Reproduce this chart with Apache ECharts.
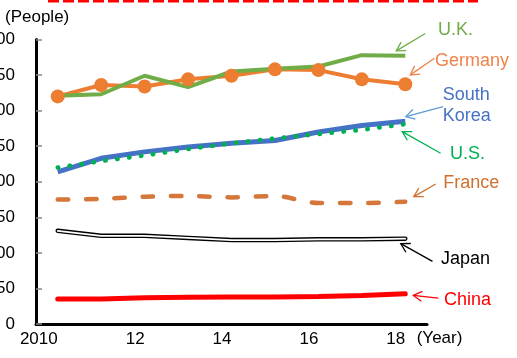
<!DOCTYPE html>
<html>
<head>
<meta charset="utf-8">
<script src="https://cdn.jsdelivr.net/npm/echarts@6/dist/echarts.min.js"></script>
<style>
  html, body { margin: 0; padding: 0; background: #fff; }
  #chart { width: 517px; height: 358px; }
</style>
</head>
<body>
<div id="chart"></div>
<script>
// Years on the horizontal axis
const years = ['2010', '2011', '2012', '2013', '2014', '2015', '2016', '2017', '2018'];

// Number of people per country and year
const uk        = [321, 323, 349, 333, 355, 359, 362, 378, 377];
const germany   = [320, 336, 334, 344, 349, 358, 357, 344, 337];
const southKorea= [214, 233, 242, 249, 254, 258, 270, 279, 285];
const us        = [220, 229, 237, 246, 254, 261, 267, 273, 281];
const france    = [175, 176, 179, 180, 178, 180, 170, 170, 172];
const japan     = [131, 124, 124, 121, 118, 118, 119, 119, 120];
const china     = [35, 35, 37, 37.5, 38, 38, 38.5, 40, 42.5];

const FONT = '"Liberation Sans", Arial, sans-serif';

const chart = echarts.init(document.getElementById('chart'), null, { renderer: 'canvas' });

chart.setOption({
  animation: false,
  backgroundColor: '#fff',
  grid: { left: 36, right: 90, top: 39.5, bottom: 34, containLabel: false, outerBoundsMode: 'none' },
  xAxis: {
    type: 'category',
    data: years,
    boundaryGap: true,
    axisLine: { lineStyle: { color: '#000', width: 3 } },
    axisTick: { show: false },
    axisLabel: {
      interval: 1,
      align: 'right',
      margin: 7,
      color: '#000',
      fontFamily: FONT,
      fontSize: 17,
      hideOverlap: false,
      formatter: (v, i) => (i === 0 ? v : v.slice(2))
    },
    splitLine: { show: false }
  },
  yAxis: {
    type: 'value',
    min: 0,
    max: 400,
    interval: 50,
    axisLine: { show: true, lineStyle: { color: '#000', width: 3 } },
    axisTick: { show: true, inside: true, length: 6, lineStyle: { color: '#888', width: 1.5 } },
    axisLabel: { margin: 21, color: '#000', fontFamily: FONT, fontSize: 17 },
    splitLine: { show: false }
  },
  series: [
    {
      name: 'China', type: 'line', data: china, symbol: 'none',
      lineStyle: { color: '#FF0000', width: 5, cap: 'round' }
    },
    {
      name: 'Japan', type: 'line', data: japan, symbol: 'none',
      lineStyle: { color: '#000', width: 4.5, cap: 'round', join: 'round' }
    },
    {
      name: 'Japan inner', type: 'line', data: japan, symbol: 'none',
      lineStyle: { color: '#fff', width: 1.8, cap: 'round', join: 'round' }
    },
    {
      name: 'France', type: 'line', data: france, symbol: 'none', smooth: 0.3,
      lineStyle: { color: '#D5763A', width: 4.5, type: [10.5, 17.8], cap: 'round' }
    },
    {
      name: 'South Korea', type: 'line', data: southKorea, symbol: 'none',
      lineStyle: { color: '#4472C4', width: 5, cap: 'butt' }
    },
    {
      name: 'U.S.', type: 'line', data: us, symbol: 'none',
      lineStyle: { color: '#00B050', width: 4.5, type: [0.5, 11.5], cap: 'round' }
    },
    {
      name: 'Germany', type: 'line', data: germany, symbol: 'circle', symbolSize: 14,
      itemStyle: { color: '#ED7D31' },
      lineStyle: { color: '#ED7D31', width: 4 }
    },
    {
      name: 'U.K.', type: 'line', data: uk, symbol: 'none',
      lineStyle: { color: '#70AD47', width: 4 }
    }
  ]
});

// Callout labels: arrow tip offset from the last point, arrow direction, text placement
const callouts = [
  { data: uk,         lines: ['U.K.'],          color: '#70AD47', arrow: '#70AD47', tip: [-9, -5],  vec: [29, -17.4],  tx: 438,   ty: [30.3] },
  { data: germany,    lines: ['Germany'],       color: '#F0834A', arrow: '#F0834A', tip: [5, -9.4], vec: [24.3, -16.7], tx: 435,   ty: [61.5] },
  { data: southKorea, lines: ['South', 'Korea'],color: '#4472C4', arrow: '#5B9BD5', tip: [0.5, -4.7], vec: [37.3, -10], tx: 442.7, ty: [95, 116.5] },
  { data: us,         lines: ['U.S.'],          color: '#00B050', arrow: '#00B050', tip: [-3, 7.5], vec: [38.3, 21.6],  tx: 450,   ty: [154] },
  { data: france,     lines: ['France'],        color: '#D0702F', arrow: '#D0702F', tip: [8.5, -5], vec: [22, -12.7],   tx: 443.3, ty: [183.5] },
  { data: japan,      lines: ['Japan'],         color: '#000000', arrow: '#000000', tip: [-4.5, 5], vec: [31.7, 17.7],  tx: 441,   ty: [259.5] },
  { data: china,      lines: ['China'],         color: '#FF0000', arrow: '#FF0000', tip: [8, 1.7],  vec: [25, 2.6],     tx: 444,   ty: [299.7] }
];

function arrowShapes(tip, tail, color) {
  const dx = tip[0] - tail[0], dy = tip[1] - tail[1];
  const len = Math.hypot(dx, dy);
  const ux = dx / len, uy = dy / len;
  const arm = 10, ang = 30 * Math.PI / 180;
  const rot = (a) => [ux * Math.cos(a) - uy * Math.sin(a), ux * Math.sin(a) + uy * Math.cos(a)];
  const r1 = rot(ang), r2 = rot(-ang);
  const style = { stroke: color, lineWidth: 1.3, fill: null };
  return [
    { type: 'line', shape: { x1: tail[0], y1: tail[1], x2: tip[0], y2: tip[1] }, style },
    { type: 'polyline', shape: { points: [
        [tip[0] - arm * r1[0], tip[1] - arm * r1[1]],
        tip,
        [tip[0] - arm * r2[0], tip[1] - arm * r2[1]]
      ] }, style }
  ];
}

const graphics = [
  // dashed red frame edge along the top
  { type: 'line', shape: { x1: 48, y1: 1, x2: 478, y2: 1 },
    style: { stroke: '#FF0000', lineWidth: 3, lineDash: [11, 4] } },
  // axis units
  { type: 'text', x: 5, y: 17.3,
    style: { text: '(People)', font: '17px ' + FONT, fill: '#000', verticalAlign: 'middle' } },
  { type: 'text', x: 416.7, y: 338.3,
    style: { text: '(Year)', font: '17px ' + FONT, fill: '#000', verticalAlign: 'middle' } }
];

callouts.forEach((c) => {
  const last = c.data.length - 1;
  const p = chart.convertToPixel({ xAxisIndex: 0, yAxisIndex: 0 }, [last, c.data[last]]);
  const tip = [p[0] + c.tip[0], p[1] + c.tip[1]];
  const tail = [tip[0] + c.vec[0], tip[1] + c.vec[1]];
  arrowShapes(tip, tail, c.arrow).forEach((g) => graphics.push(g));
  c.lines.forEach((t, i) => {
    graphics.push({ type: 'text', x: c.tx, y: c.ty[i],
      style: { text: t, font: '18px ' + FONT, fill: c.color, verticalAlign: 'middle' } });
  });
});

chart.setOption({ graphic: graphics });
</script>
</body>
</html>
